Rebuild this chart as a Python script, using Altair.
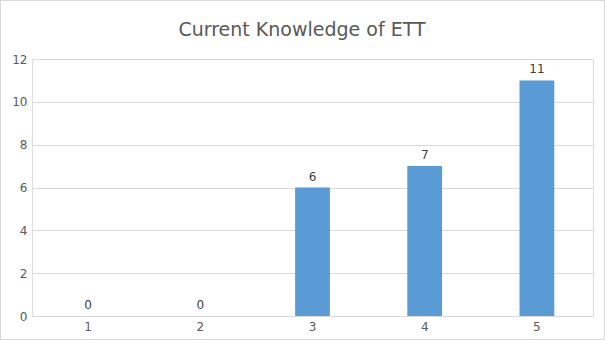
import altair as alt
import pandas as pd

categories = ["1", "2", "3", "4", "5"]
values = [0, 0, 6, 7, 11]
title_text = "Current Knowledge of ETT"

df = pd.DataFrame({"cat": categories, "val": values})

W, H = 561, 257
PL, PT, PR, PB = 32, 59, 12, 24

base = alt.Chart(df)

bars = base.mark_bar(color="#5b9bd5").encode(
    x=alt.X("cat:N", sort=categories,
            scale=alt.Scale(paddingInner=0.69, paddingOuter=0.345),
            axis=alt.Axis(title=None, labelAngle=0, ticks=False, domain=True,
                          domainColor="#d9d9d9", labelPadding=5, labelFontSize=12,
                          labelColor="#595959", labelFont="DejaVu Sans")),
    y=alt.Y("val:Q", scale=alt.Scale(domain=[0, 12]),
            axis=alt.Axis(title=None, values=[0, 2, 4, 6, 8, 10, 12], ticks=False,
                          domain=False, gridColor="#d9d9d9", labelPadding=5,
                          labelFontSize=12, labelColor="#595959", labelFont="DejaVu Sans")),
)

labels = base.mark_text(baseline="bottom", dy=-4, fontSize=12, color="#404040",
                        font="DejaVu Sans").encode(
    x=alt.X("cat:N", sort=categories),
    y=alt.Y("val:Q"),
    text=alt.Text("val:Q"),
)

title = alt.Chart(pd.DataFrame({"t": [title_text]})).mark_text(
    fontSize=19, font="DejaVu Sans", color="#595959", align="center", baseline="middle"
).encode(
    x=alt.value(270), y=alt.value(-29), text="t:N"
)

border = base.mark_rect(fill=None, stroke="#d9d9d9", strokeWidth=1).encode(
    x=alt.value(-PL + 0.5), x2=alt.value(W + PR - 0.5),
    y=alt.value(-PT + 0.5), y2=alt.value(H + PB - 0.5),
)

chart = alt.layer(bars, labels, title, border).properties(
    width=W, height=H,
    autosize=alt.AutoSizeParams(type="none"),
    padding={"left": PL, "top": PT, "right": PR, "bottom": PB},
).configure_view(stroke=None).configure(background="white")

chart.save("out.html", embed_options={"renderer": "svg", "actions": False})
